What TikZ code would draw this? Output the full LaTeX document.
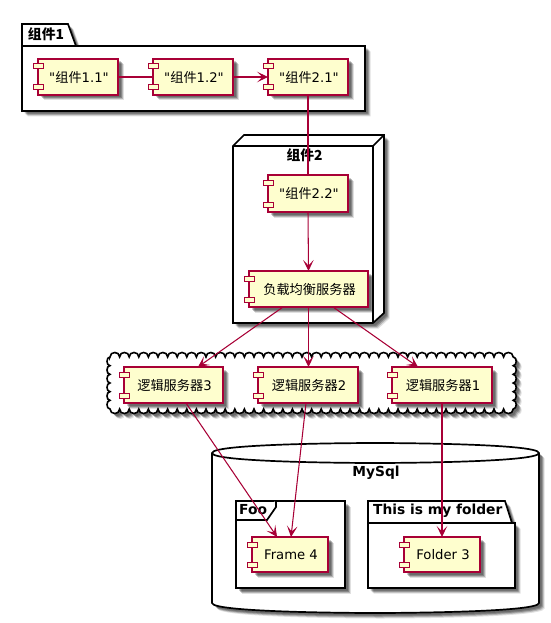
\documentclass[tikz,border=0pt]{standalone}
\usepackage{fontspec}
\setmainfont{DejaVu Sans}[Ligatures=TeXOff]
\newfontfamily\cjk{Noto Sans CJK SC}[Ligatures=TeXOff]
\usetikzlibrary{arrows.meta,shadows,calc,backgrounds}
\definecolor{compfill}{HTML}{FEFECE}
\definecolor{compline}{HTML}{A80036}
\tikzset{
  softshadow/.style={
    drop shadow={shadow xshift=5.5pt,shadow yshift=-5.5pt,fill=black,opacity=.12},
    drop shadow={shadow xshift=4.5pt,shadow yshift=-4.5pt,fill=black,opacity=.2},
    drop shadow={shadow xshift=3.5pt,shadow yshift=-3.5pt,fill=black,opacity=.25},
    drop shadow={shadow xshift=2.5pt,shadow yshift=-2.5pt,fill=black,opacity=.2}},
  container/.style={draw=black,line width=1.7pt,fill=white,line join=miter},
  compbox/.style={draw=compline,line width=1.4pt,fill=compfill,rectangle,inner sep=0pt,outer sep=0pt,font=\fontsize{13.2}{15}\selectfont,softshadow},
  compport/.style={draw=compline,line width=1pt,fill=compfill},
  title/.style={font=\fontsize{13.8}{15}\selectfont\bfseries,inner sep=0pt,text=black},
  link/.style={draw=compline,line width=1.05pt},
  arrowlink/.style={link,-{Stealth[length=11pt,width=10.5pt,inset=5.5pt]}}
}
% name, x1, y1, x2, y2, text
\newcommand{\compnode}[6]{%
  \pgfmathsetmacro{\cxa}{(#2+#4)/2}\pgfmathsetmacro{\cya}{(#3+#5)/2}%
  \pgfmathsetmacro{\wa}{#4-#2}\pgfmathsetmacro{\ha}{#5-#3}%
  \node[compbox,minimum width=\wa pt,minimum height=\ha pt] (#1) at (\cxa,\cya) {\hspace{2pt}#6};%
  \draw[compport] (#2-5,#3+5) rectangle (#2+5,#3+10);%
  \draw[compport] (#2-5,#5-10) rectangle (#2+5,#5-5);%
}
\begin{document}
\begin{tikzpicture}[x=1pt,y=-1pt]
\useasboundingbox (0,0) rectangle (550,623);
\fill[white] (0,0) rectangle (550,623);

% package 组件1
\draw[container,softshadow] (22,46) -- (22,24) -- (68,24) -- (76,46) -- (365,46) -- (365,111) -- (22,111) -- cycle;
\draw[container] (22,46) -- (76,46);
\node[title] (t1) at (46,34) {\cjk 组件1};

% node 组件2
\draw[container,softshadow] (233,146) -- (244,135) -- (384,135) -- (384,313) -- (373,323) -- (233,323) -- cycle;
\draw[container] (233,146) -- (373,146) -- (373,323);
\draw[container] (373,146) -- (384,135);
\node[title] (t2) at (304.5,155) {\cjk 组件2};

% cloud
\def\cloudpath{(110,357)
  \foreach \i in {0,...,41}{ .. controls (110+\i*9.6,351) and (110+\i*9.6+9.6,351) .. (110+\i*9.6+9.6,357) }
  \foreach \i in {0,...,5}{ .. controls (517.2,357+\i*8.67) and (517.2,357+\i*8.67+8.67) .. (513.2,357+\i*8.67+8.67) }
  \foreach \i in {0,...,41}{ .. controls (513.2-\i*9.6,415) and (513.2-\i*9.6-9.6,415) .. (513.2-\i*9.6-9.6,409) }
  \foreach \i in {0,...,5}{ .. controls (106,409-\i*8.67) and (106,409-\i*8.67-8.67) .. (110,409-\i*8.67-8.67) } -- cycle}
\draw[container,softshadow,line width=1.6pt] \cloudpath;

% database
\draw[container,softshadow] (212,453) .. controls (212,443) and (375,443) .. (375,443) .. controls (375,443) and (539,443) .. (539,453) -- (539,603) .. controls (539,613) and (375,613) .. (375,613) .. controls (375,613) and (212,613) .. (212,603) -- cycle;
\draw[container,fill=none] (212,453) .. controls (212,463) and (375,463) .. (375,463) .. controls (375,463) and (539,463) .. (539,453);
\node[title] (t3) at (376,473) {MySql};

% frame Foo
\draw[container,softshadow] (236,501) rectangle (345,588);
\draw[container] (236,520) -- (267,520) -- (276,507) -- (276,501);
\node[title,anchor=west] (t4) at (239,510) {Foo};

% folder
\draw[container,softshadow] (368,523) -- (368,501) -- (505,501) -- (512,523) -- (515,523) -- (515,588) -- (368,588) -- cycle;
\draw[container] (368,523) -- (512,523);
\node[title,anchor=west] (t5) at (373,510.5) {This is my folder};

% components
\compnode{a}{38}{59}{118}{95}{"\cjk 组件\normalfont 1.1"}
\compnode{b}{153}{59}{233}{95}{"\cjk 组件\normalfont 1.2"}
\compnode{c}{268}{59}{348}{95}{"\cjk 组件\normalfont 2.1"}
\compnode{d}{268}{175}{348}{212}{"\cjk 组件\normalfont 2.2"}
\compnode{lb}{249}{271}{368}{307}{\cjk 负载均衡服务器}
\compnode{s3}{124}{367}{223}{403}{\cjk 逻辑服务器\normalfont 3}
\compnode{s2}{258}{367}{358}{403}{\cjk 逻辑服务器\normalfont 2}
\compnode{s1}{392}{367}{492}{403}{\cjk 逻辑服务器\normalfont 1}
\compnode{f4}{252}{537}{328}{572}{Frame 4}
\compnode{f3}{404}{537}{480}{572}{Folder 3}

% connectors
\draw[link] (a.east) -- (b.west);
\draw[arrowlink] (b.east) -- (c.west);
\draw[link] (c.south) -- (d.north);
\draw[arrowlink] (d.south) -- (lb.north);
\draw[arrowlink] ($(lb.south west)!.286!(lb.south east)$) -- ($(s3.north west)!.747!(s3.north east)$);
\draw[arrowlink] (lb.south) -- (lb.south |- s2.north);
\draw[arrowlink] ($(lb.south west)!.706!(lb.south east)$) -- ($(s1.north west)!.26!(s1.north east)$);
\draw[arrowlink] ($(s3.south west)!.626!(s3.south east)$) -- ($(f4.north west)!.33!(f4.north east)$);
\draw[arrowlink] ($(s2.south west)!.48!(s2.south east)$) -- ($(f4.north west)!.513!(f4.north east)$);
\draw[arrowlink] (s1.south) -- (s1.south |- f3.north);
\end{tikzpicture}
\end{document}
